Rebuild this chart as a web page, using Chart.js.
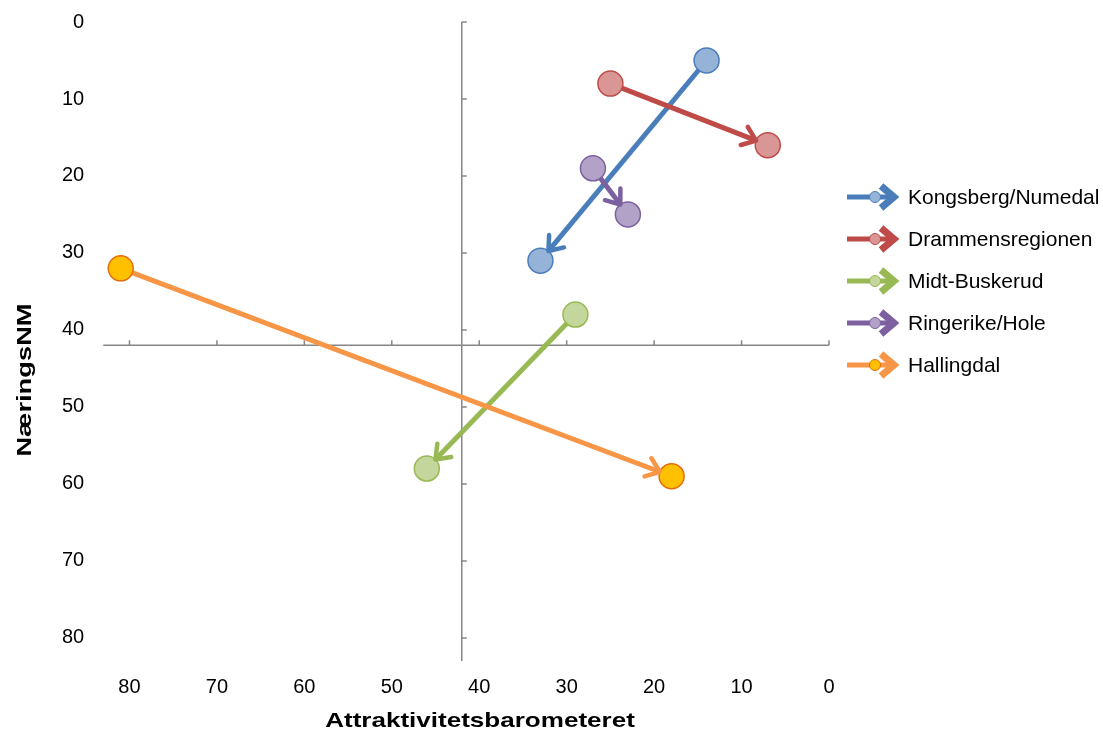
<!DOCTYPE html>
<html>
<head>
<meta charset="utf-8">
<script src="https://cdn.jsdelivr.net/npm/chart.js@4.4.0/dist/chart.umd.min.js"></script>
<style>
  body { margin: 0; background: #fff; }
</style>
</head>
<body>
<canvas id="chart" width="1103" height="731"></canvas>
<script>
// Data: ranking movement per region (from -> to)
const regions  = ['Kongsberg/Numedal', 'Drammensregionen', 'Midt-Buskerud', 'Ringerike/Hole', 'Hallingdal'];
const attrFrom = [14, 25, 29, 27, 81];   // Attraktivitetsbarometeret, start
const attrTo   = [33, 7, 46, 23, 18];    // Attraktivitetsbarometeret, end
const nmFrom   = [5, 8, 38, 19, 32];     // NæringsNM, start
const nmTo     = [31, 16, 58, 25, 59];   // NæringsNM, end
const tickValues = [0, 10, 20, 30, 40, 50, 60, 70, 80];
const axisMax = 83;
const axisCross = 42;

// styles
const lineColors = ['#4a7ebb', '#be4b48', '#98b954', '#7d60a0', '#f79646'];
const markerFill = ['#95b3d7', '#d99694', '#c3d69b', '#b3a2c7', '#ffc000'];
const markerEdge = ['#4a7ebb', '#be4b48', '#98b954', '#7d60a0', '#e46c0a'];

Chart.defaults.font.family = '"Liberation Sans", Arial, sans-serif';
Chart.defaults.color = '#000';

const MARKER_R = 12.5;

// axes crossing in the middle of the plot
const crossAxes = {
  id: 'crossAxes',
  beforeDatasetsDraw(chart) {
    const ctx = chart.ctx, xs = chart.scales.x, ys = chart.scales.y;
    const x0 = xs.getPixelForValue(axisCross), y0 = ys.getPixelForValue(axisCross);
    ctx.save();
    ctx.strokeStyle = '#868686';
    ctx.lineWidth = 1.5;
    ctx.beginPath();
    ctx.moveTo(xs.getPixelForValue(axisMax), y0);
    ctx.lineTo(xs.getPixelForValue(0), y0);
    ctx.moveTo(x0, ys.getPixelForValue(0));
    ctx.lineTo(x0, ys.getPixelForValue(axisMax));
    tickValues.forEach(v => {
      const x = xs.getPixelForValue(v), y = ys.getPixelForValue(v);
      ctx.moveTo(x, y0); ctx.lineTo(x, y0 - 5);
      ctx.moveTo(x0, y); ctx.lineTo(x0 + 5, y);
    });
    ctx.stroke();
    ctx.restore();
  }
};

// open arrow head at the end of each line
const arrowHeads = {
  id: 'arrowHeads',
  afterDatasetDraw(chart, args) {
    const ctx = chart.ctx, i = args.index;
    const p0 = args.meta.data[0], p1 = args.meta.data[1];
    const a = Math.atan2(p1.y - p0.y, p1.x - p0.x);
    const tx = p1.x - MARKER_R * Math.cos(a), ty = p1.y - MARKER_R * Math.sin(a);
    const len = 16, spread = 0.65;
    ctx.save();
    ctx.strokeStyle = lineColors[i];
    ctx.lineWidth = 4.5;
    ctx.lineCap = 'round';
    ctx.lineJoin = 'round';
    ctx.beginPath();
    ctx.moveTo(tx - len * Math.cos(a - spread), ty - len * Math.sin(a - spread));
    ctx.lineTo(tx, ty);
    ctx.lineTo(tx - len * Math.cos(a + spread), ty - len * Math.sin(a + spread));
    ctx.stroke();
    ctx.restore();
  }
};

// legend and axis titles
const extras = {
  id: 'extras',
  afterDraw(chart) {
    const ctx = chart.ctx;
    ctx.save();
    chart.data.datasets.forEach((ds, i) => {
      const cy = 197 + 42 * i;
      ctx.strokeStyle = lineColors[i];
      ctx.lineWidth = 5;
      ctx.lineCap = 'butt';
      ctx.beginPath();
      ctx.moveTo(847, cy); ctx.lineTo(890, cy);
      ctx.stroke();
      ctx.lineWidth = 7;
      ctx.lineJoin = 'miter';
      ctx.beginPath();
      ctx.moveTo(881, cy - 11); ctx.lineTo(894, cy); ctx.lineTo(881, cy + 11);
      ctx.stroke();
      ctx.beginPath();
      ctx.arc(875, cy, 5.5, 0, Math.PI * 2);
      ctx.fillStyle = markerFill[i];
      ctx.fill();
      ctx.lineWidth = 1;
      ctx.strokeStyle = markerEdge[i];
      ctx.stroke();
      ctx.fillStyle = '#000';
      ctx.font = '21px "Liberation Sans", Arial, sans-serif';
      ctx.textBaseline = 'middle';
      ctx.textAlign = 'left';
      ctx.fillText(ds.label, 908, cy + 1);
    });

    ctx.font = 'bold 21px "Liberation Sans", Arial, sans-serif';
    ctx.textAlign = 'center';
    ctx.textBaseline = 'alphabetic';
    ctx.save();
    ctx.translate(480, 727);
    ctx.scale(1.24, 1);
    ctx.fillText('Attraktivitetsbarometeret', 0, 0);
    ctx.restore();

    ctx.save();
    ctx.translate(31, 380);
    ctx.rotate(-Math.PI / 2);
    ctx.scale(1.3, 1);
    ctx.fillText('NæringsNM', 0, 0);
    ctx.restore();
    ctx.restore();
  }
};

const datasets = regions.map((name, i) => ({
  label: name,
  data: [{ x: attrFrom[i], y: nmFrom[i] }, { x: attrTo[i], y: nmTo[i] }],
  showLine: true,
  borderColor: lineColors[i],
  borderWidth: 5,
  pointRadius: MARKER_R,
  pointBackgroundColor: markerFill[i],
  pointBorderColor: markerEdge[i],
  pointBorderWidth: 1.5,
  order: regions.length - i
}));

new Chart(document.getElementById('chart'), {
  type: 'scatter',
  data: { datasets: datasets },
  options: {
    responsive: false,
    animation: false,
    layout: { padding: { left: 43, right: 274, top: 22, bottom: 18 } },
    plugins: { legend: { display: false }, tooltip: { enabled: false } },
    scales: {
      x: {
        type: 'linear', reverse: true, min: 0, max: axisMax,
        grid: { display: false, drawTicks: false },
        border: { display: false },
        ticks: { stepSize: 10, includeBounds: false, padding: 14, maxRotation: 0, font: { size: 20 } }
      },
      y: {
        type: 'linear', reverse: true, min: 0, max: axisMax,
        grid: { display: false, drawTicks: false },
        border: { display: false },
        ticks: { stepSize: 10, includeBounds: false, padding: 19, font: { size: 20 } },
        afterFit(scale) { scale.paddingTop = 0; scale.paddingBottom = 0; }
      }
    }
  },
  plugins: [crossAxes, arrowHeads, extras]
});
</script>
</body>
</html>
